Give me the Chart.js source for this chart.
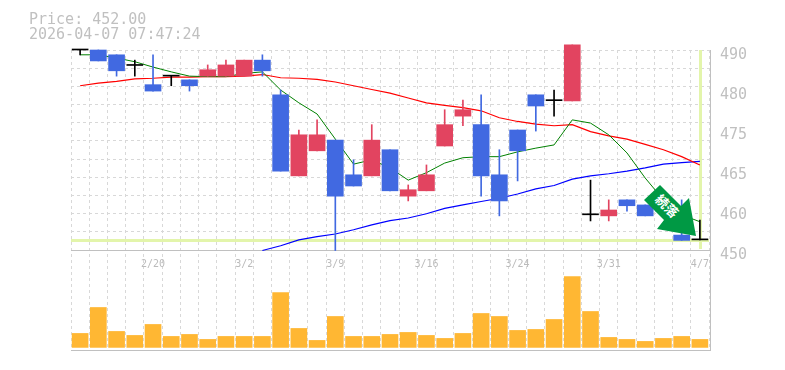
<!DOCTYPE html>
<html lang="ja">
<head>
<meta charset="utf-8">
<title>Price chart</title>
<script src="https://cdn.jsdelivr.net/npm/chart.js"></script>
<style>
  body { margin: 0; background: #fff; }
  #wrap { position: relative; width: 785px; height: 370px; overflow: hidden; }
  #info { position: absolute; left: 29px; top: 12px; font: 15px/15px "DejaVu Sans Mono", monospace; color: #c0c0c0; white-space: pre; }
  #arrow { position: absolute; left: 644px; top: 185px; width: 52px; height: 51px; background: #009944;
           clip-path: polygon(16px 0, 0 15px, 20px 35px, 13px 44px, 52px 51px, 45px 13px, 37px 21px); }
  #arrow span { position: absolute; left: 7px; top: 14px; width: 32px; text-align: center; color: #fff;
                font: bold 13px/14px "Noto Sans CJK JP", sans-serif; transform: rotate(45deg); }
</style>
</head>
<body>
<div id="wrap">
  <canvas id="myChart" width="785" height="370"></canvas>
  <div id="info">Price: 452.00
2026-04-07 07:47:24</div>
  <div id="arrow"><span>続落</span></div>
</div>
<script>
const dates = ['2/16','2/17','2/18','2/19','2/20','2/24','2/25','2/26','2/27','3/2','3/3','3/4','3/5','3/6','3/9','3/10','3/11','3/12','3/13','3/16','3/17','3/18','3/19','3/23','3/24','3/25','3/26','3/27','3/30','3/31','4/1','4/2','4/3','4/6','4/7'];
const shownDates = ['2/20','3/2','3/9','3/16','3/24','3/31','4/7'];

const open  = [487.6,487.6,486.7,484.7,481.1,482.7,482,482.7,482.7,482.7,485.7,479.2,464,468.7,470.7,464.2,464,468.9,460.2,461.2,469.6,475.2,473.6,464.2,472.6,479.2,478.1,478.05,456.7,456.5,459.5,458.55,459.1,452.9,452];
const close = [487.6,485.55,483.7,484.7,479.9,482.7,480.9,483.9,484.8,485.7,483.7,464.9,471.7,471.7,460.2,462.1,470.7,461.2,461.4,464.2,473.6,476.4,464,459.3,468.7,477.1,478.1,488.55,456.7,457.6,458.4,456.5,457.4,451.9,452];
const high  = [487.6,487.6,486.7,485.7,486.7,482.7,482,484.8,485.7,485.7,486.7,480.1,472.6,474.5,470.7,467,473.6,468.9,462.3,466.05,476.4,478.2,479.2,468.9,472.6,479.2,480.1,488.55,463.2,459.5,459.5,458.55,459.1,459.5,455.7];
const low   = [486.7,485.55,482.7,482.7,479.9,480.9,479.9,482.7,482.7,482.7,482.7,464.9,464,468.7,450,462.1,464,461.2,459.3,461.2,469.6,473.4,460.2,456.5,463.05,472.4,475.2,478.05,455.55,455.55,457.4,456.5,457.4,451.9,452];
const volume = [14,40,16,12,23,11,13,8,11,11,11,55,19,7,31,11,11,13,15,12,9,14,34,31,17,18,28,71,36,10,8,6,9,11,8];

const maShort = [486.7,486.7,486.1,485.4,484.4,483.5,482.7,482.6,482.6,483.2,483.5,480.1,477.7,475.6,470.9,466.2,467,465.5,463.2,464.6,466.4,467.4,467.6,467.6,468.5,469.2,469.8,474.5,473.9,471.7,468.3,463.6,459.5,456.7,455.4];
const maMid   = [480.9,481.4,481.7,482.2,482.3,482.5,482.5,482.6,482.6,482.7,483,482.4,482.3,482.1,481.6,480.9,480.2,479.5,478.6,477.7,477.2,476.8,476.2,474.9,474.2,473.7,473.4,473.6,472.3,471.5,470.9,469.9,468.9,467.6,466.05];
const maLong  = [null,null,null,null,null,null,null,null,null,null,450,450.9,452,452.6,453.1,453.9,454.8,455.6,456.1,456.9,457.9,458.55,459.2,459.8,460.6,461.55,462.2,463.4,464,464.4,464.9,465.5,466.2,466.5,466.7];

const priceTicks  = [450,457.5,465,472.5,480,487.5];
const priceLabels = ['450','460','465','475','480','490'];
const gridTicks   = [450,453.41,456.82,460.23,463.64,467.05,470.45,473.86,477.27,480.68,484.09,487.5];
const lastPrice = 452;

const RED = '#e24460', BLUE = '#4169e1', BLACK = '#000000';
function candleColor(ctx) {
    const i = ctx.dataIndex;
    if (close[i] > open[i]) return RED;
    if (close[i] < open[i]) return BLUE;
    return BLACK;
}

// yellow price and date markers, and the solid panel lines
const panelLines = {
    id: 'panelLines',
    beforeDatasetsDraw(chart) {
        const { ctx, chartArea: a, scales } = chart;
        const baseY = scales.yGrid.getPixelForValue(450);
        const priceY = Math.round(scales.y.getPixelForValue(lastPrice)) + 0.5;
        const lastX = Math.round(scales.x.getPixelForValue(dates.length - 1)) + 0.5;
        ctx.save();
        ctx.strokeStyle = '#e3f5ab';
        ctx.lineWidth = 3;
        ctx.beginPath();
        ctx.moveTo(a.left, priceY);
        ctx.lineTo(a.right, priceY);
        ctx.moveTo(lastX, a.top);
        ctx.lineTo(lastX, baseY - 1);
        ctx.stroke();
        ctx.strokeStyle = '#c0c0c0';
        ctx.lineWidth = 1;
        ctx.beginPath();
        ctx.moveTo(a.left, baseY + 0.5);
        ctx.lineTo(a.right + 2, baseY + 0.5);
        ctx.moveTo(a.left, a.bottom + 0.5);
        ctx.lineTo(a.right + 2, a.bottom + 0.5);
        ctx.moveTo(a.right + 1.5, a.top);
        ctx.lineTo(a.right + 1.5, a.bottom);
        ctx.stroke();
        ctx.restore();
    }
};

function lineSet(data, color, width) {
    return { type: 'line', data, borderColor: color, borderWidth: width, pointRadius: 0, tension: 0, yAxisID: 'y', order: 3 };
}

new Chart(document.getElementById('myChart').getContext('2d'), {
    type: 'bar',
    plugins: [panelLines],
    data: {
        labels: dates,
        datasets: [
            lineSet(maShort, '#008000', 1),
            lineSet(maMid, '#ff0000', 1.2),
            lineSet(maLong, '#0000ff', 1.2),
            { data: high.map((h, i) => [low[i], h]), backgroundColor: candleColor, barThickness: 1, grouped: false, yAxisID: 'y', order: 2, clip: false },
            { data: open.map((o, i) => [o, close[i]]), backgroundColor: candleColor, barThickness: 16, minBarLength: 1, grouped: false, yAxisID: 'y', order: 1, clip: false },
            { data: volume, backgroundColor: '#ffb733', barThickness: 16, grouped: false, yAxisID: 'yVolume', order: 1 }
        ]
    },
    options: {
        responsive: false,
        animation: false,
        layout: { padding: { left: 71, top: 50, bottom: 20, right: 0 } },
        plugins: { legend: { display: false }, tooltip: { enabled: false } },
        scales: {
            x: {
                position: { yGrid: 450 },
                offset: true,
                grid: { offset: true, color: '#d8d8d8', drawTicks: false },
                border: { display: false, dash: [3, 3] },
                ticks: {
                    autoSkip: false,
                    maxRotation: 0,
                    padding: 8,
                    color: '#bbbbbb',
                    font: { family: '"DejaVu Sans Mono", monospace', size: 10 },
                    callback(value) {
                        const d = this.getLabelForValue(value);
                        return shownDates.includes(d) ? d : '';
                    }
                }
            },
            // price labels
            y: {
                position: 'right',
                min: 431.35,
                max: 487.6,
                afterBuildTicks(s) { s.ticks = priceTicks.map(value => ({ value })); },
                afterFit(s) { s.width = 76; },
                grid: { display: false, drawTicks: false },
                border: { display: false },
                ticks: {
                    autoSkip: false,
                    padding: 11,
                    labelOffset: 5,
                    color: '#c0c0c0',
                    font: { family: '"DejaVu Sans Mono", monospace', size: 15 },
                    callback(value) { return priceLabels[priceTicks.indexOf(value)]; }
                }
            },
            // dashed horizontal lines of the price panel
            yGrid: {
                position: 'right',
                min: 431.25,
                max: 487.5,
                afterBuildTicks(s) { s.ticks = gridTicks.map(value => ({ value })); },
                afterFit(s) { s.width = 0; },
                grid: { color: '#d8d8d8', drawTicks: false },
                border: { display: false, dash: [3, 3] },
                ticks: { display: false, autoSkip: false }
            },
            yVolume: { display: false, min: -2.6, max: 298 }
        }
    }
});
</script>
</body>
</html>
